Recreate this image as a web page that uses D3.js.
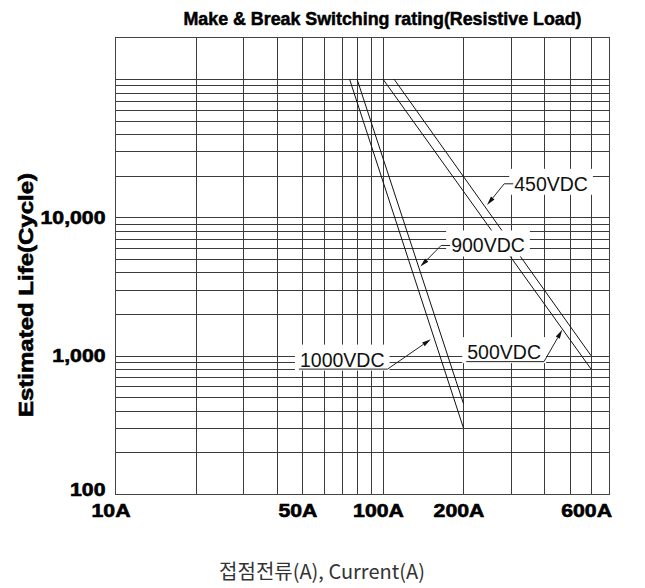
<!DOCTYPE html>
<html>
<head>
<meta charset="utf-8">
<script src="https://cdn.jsdelivr.net/npm/d3@7/dist/d3.min.js"></script>
<style>
  body { margin: 0; background: #fff; }
  text { font-family: "Liberation Sans", Arial, sans-serif; }
</style>
</head>
<body>
<svg id="chart" width="645" height="588"></svg>
<script>
// axis ticks and grid
const currentTicks = [10, 50, 100, 200, 600];
const currentTickLabels = ["10A", "50A", "100A", "200A", "600A"];
const currentGrid = [20, 30, 40, 50, 60, 70, 80, 90, 100, 200, 300, 400, 500, 600];
const lifeTicks = [100, 1000, 10000];
const lifeTickLabels = ["100", "1,000", "10,000"];
const lifeGrid = [200, 300, 400, 500, 600, 700, 800, 900,
                  1000, 2000, 3000, 4000, 5000, 6000, 7000, 8000, 9000,
                  10000, 20000, 30000, 40000, 50000, 60000, 70000, 80000, 90000, 100000];

// curves: current (A) vs estimated life (cycles)
const seriesNames = ["1000VDC", "900VDC", "500VDC", "450VDC"];
const seriesCurrent = [[75, 200], [80, 200], [100, 600], [110, 600]];
const seriesLife = [[100000, 300], [100000, 450], [100000, 800], [100000, 1000]];

// callouts: arrow tip and leader elbow, in (current, life)
const noteTip = [[151, 1316], [138, 4420], [468, 1538], [245, 12300]];
const noteElbow = [[104, 800], [165, 6270], [400, 906], [284, 17500]];
const noteKind = ["under", "side", "under", "side"];

const plotLeft = 115.5, plotRight = 609, plotTop = 37.5, plotBottom = 494;

const svg = d3.select("#chart");
const x = d3.scaleLog().domain([10, 700]).range([plotLeft, plotRight]);
const y = d3.scaleLog().domain([100, 200000]).range([plotBottom, plotTop]);

// stretch text a bit wider, like the reference's heavy wide type
function widen(sel, k) {
  sel.each(function() {
    const w = this.getComputedTextLength();
    d3.select(this).attr("textLength", w * k).attr("lengthAdjust", "spacingAndGlyphs");
  });
}

// grid
const gx = svg.append("g")
  .attr("transform", "translate(0," + plotBottom + ")")
  .call(d3.axisBottom(x).tickValues(currentGrid).tickSize(-(plotBottom - plotTop)).tickFormat(""));
gx.select(".domain").remove();
const gy = svg.append("g")
  .attr("transform", "translate(" + plotLeft + ",0)")
  .call(d3.axisLeft(y).tickValues(lifeGrid).tickSize(-(plotRight - plotLeft)).tickFormat(""));
gy.select(".domain").remove();
svg.selectAll(".tick line").attr("stroke", "#3a3a3a").attr("stroke-width", 1)
  .attr("shape-rendering", "crispEdges");

svg.append("rect")
  .attr("x", plotLeft).attr("y", plotTop).attr("width", plotRight - plotLeft).attr("height", plotBottom - plotTop)
  .attr("fill", "none").attr("stroke", "#444").attr("stroke-width", 1)
  .attr("shape-rendering", "crispEdges");

// curves
const line = d3.line().x(d => x(d[0])).y(d => y(d[1]));
seriesNames.forEach((name, i) => {
  const pts = seriesCurrent[i].map((c, j) => [c, seriesLife[i][j]]);
  svg.append("path")
    .attr("class", "curve")
    .attr("d", line(pts))
    .attr("fill", "none").attr("stroke", "#111").attr("stroke-width", 1);
});

// callouts
const fs = 19.5;
seriesNames.forEach((name, i) => {
  const tx = x(noteTip[i][0]), ty = y(noteTip[i][1]);
  const ex = x(noteElbow[i][0]), ey = y(noteElbow[i][1]);
  const g = svg.append("g");
  const box = g.append("rect").attr("fill", "#fff");
  const t = g.append("text").text(name)
    .attr("font-size", fs).attr("fill", "#111");
  let lx0, lx1;
  if (noteKind[i] === "side") {
    t.attr("x", ex + 10).attr("y", ey + 7);
    lx0 = ex; lx1 = ex + 9;
  } else {
    t.attr("text-anchor", "end").attr("x", ex - 3).attr("y", ey - 2.5);
  }
  const bb = t.node().getBBox();
  box.attr("x", bb.x - 5).attr("y", bb.y - 4).attr("width", bb.width + 10).attr("height", bb.height + 4);
  if (noteKind[i] === "under") { lx0 = bb.x - 1; lx1 = ex; }
  // horizontal part of the leader
  g.append("line").attr("x1", lx0).attr("x2", lx1).attr("y1", ey).attr("y2", ey)
    .attr("stroke", "#222").attr("stroke-width", 1);
  // diagonal part ending in an arrow head
  const dx = tx - ex, dy = ty - ey, len = Math.hypot(dx, dy);
  const ux = dx / len, uy = dy / len, al = 9, aw = 2.3;
  const bx = tx - ux * al, by = ty - uy * al;
  g.append("line").attr("x1", ex).attr("y1", ey).attr("x2", bx).attr("y2", by)
    .attr("stroke", "#222").attr("stroke-width", 1);
  g.append("path")
    .attr("d", `M${tx},${ty}L${bx - uy * aw},${by + ux * aw}L${bx + uy * aw},${by - ux * aw}Z`)
    .attr("fill", "#111");
});

// tick labels
const ax = svg.append("g")
  .attr("transform", "translate(0," + plotBottom + ")")
  .call(d3.axisBottom(x).tickValues(currentTicks).tickSize(0).tickPadding(0)
    .tickFormat((d, i) => currentTickLabels[i]));
ax.select(".domain").remove();
ax.selectAll("text")
  .attr("dy", null).attr("y", 22.5).attr("dx", -5)
  .attr("font-size", 18).attr("font-weight", "bold").attr("fill", "#000")
  .attr("stroke", "#000").attr("stroke-width", 0.6)
  .style("font-family", "'Liberation Sans', Arial, sans-serif")
  .call(widen, 1.18);

const ay = svg.append("g")
  .attr("transform", "translate(" + plotLeft + ",0)")
  .call(d3.axisLeft(y).tickValues(lifeTicks).tickSize(0).tickPadding(10)
    .tickFormat((d, i) => lifeTickLabels[i]));
ay.select(".domain").remove();
ay.selectAll("text")
  .attr("dy", "0.34em")
  .attr("font-size", 18).attr("font-weight", "bold").attr("fill", "#000")
  .attr("stroke", "#000").attr("stroke-width", 0.6)
  .style("font-family", "'Liberation Sans', Arial, sans-serif")
  .call(widen, 1.18);
ay.selectAll("text").filter(d => d === 100).attr("dy", "0.1em");

// titles
svg.append("text")
  .attr("x", 382.5).attr("y", 25).attr("text-anchor", "middle")
  .attr("font-size", 18).attr("font-weight", "bold")
  .attr("stroke", "#000").attr("stroke-width", 0.5)
  .attr("textLength", 398).attr("lengthAdjust", "spacingAndGlyphs")
  .text("Make & Break Switching rating(Resistive Load)");

svg.append("text")
  .attr("transform", "translate(33,295) rotate(-90)")
  .attr("text-anchor", "middle")
  .attr("font-size", 20).attr("font-weight", "bold")
  .attr("stroke", "#000").attr("stroke-width", 0.6)
  .attr("textLength", 244).attr("lengthAdjust", "spacingAndGlyphs")
  .text("Estimated Life(Cycle)");

svg.append("text")
  .attr("x", 322).attr("y", 579).attr("text-anchor", "middle")
  .attr("font-size", 20).attr("fill", "#333")
  .style("font-family", "'Noto Sans CJK KR', 'Noto Sans', sans-serif")
  .text("접점전류(A), Current(A)");
</script>
</body>
</html>
